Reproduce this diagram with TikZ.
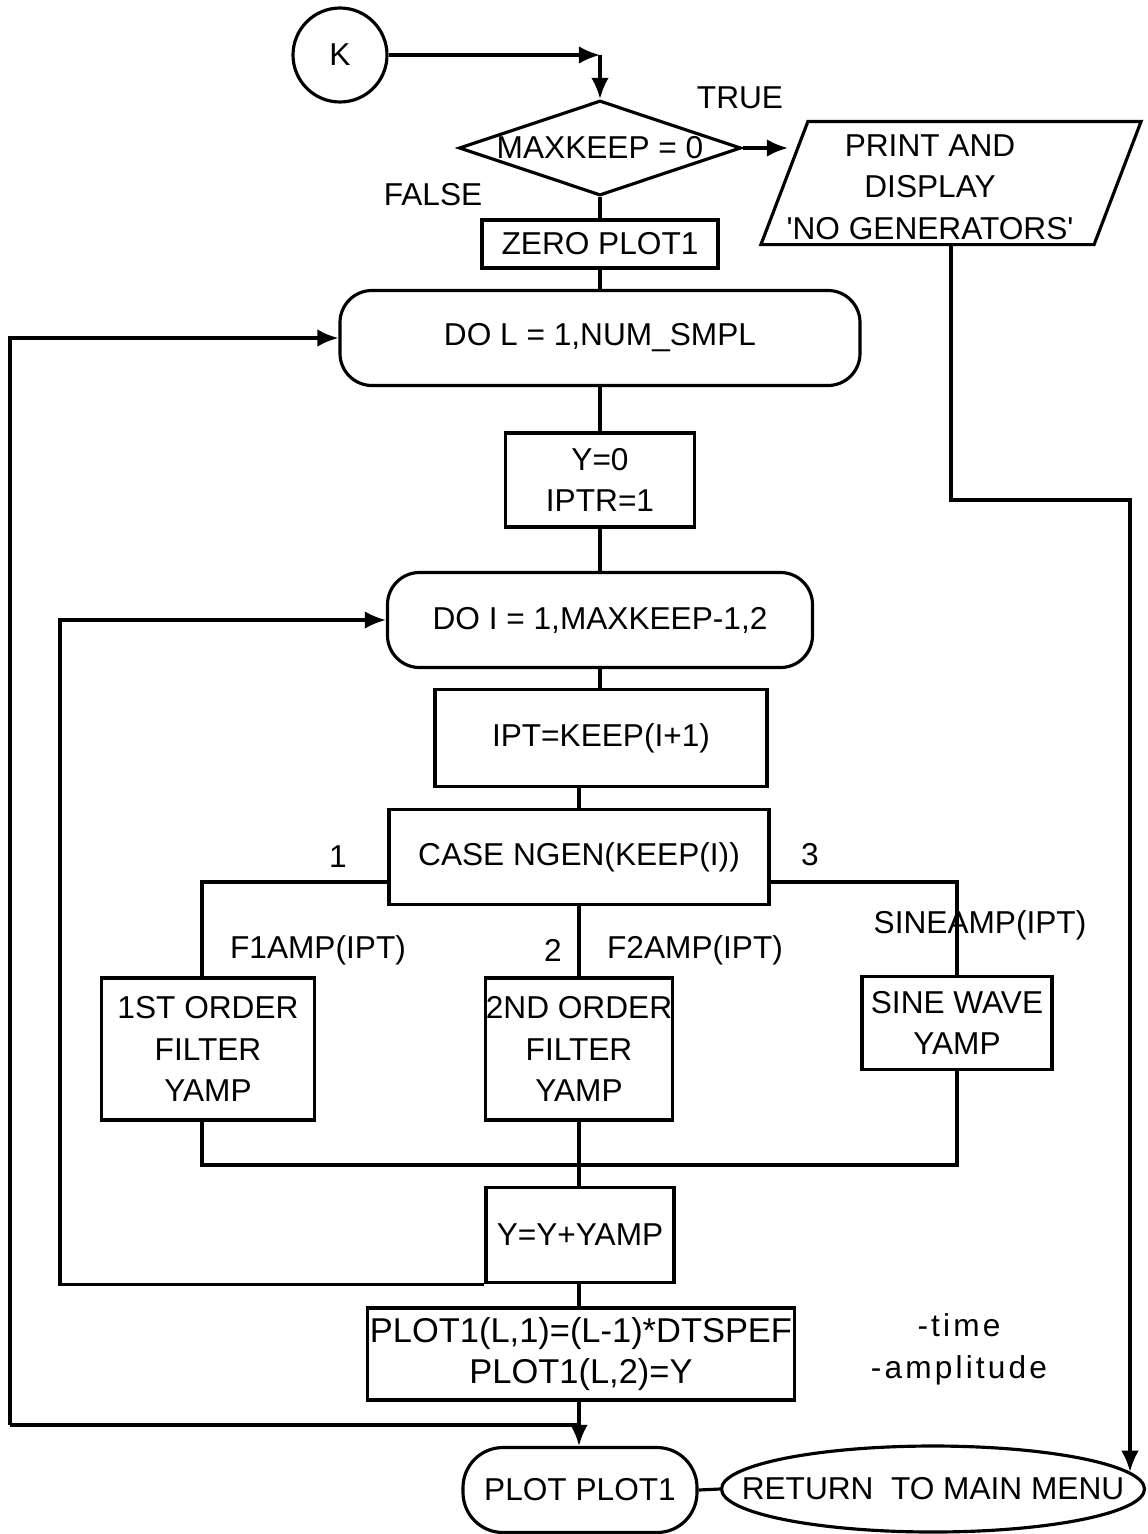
\documentclass[tikz,border=0pt]{standalone}
\usepackage{fontspec}
\setmainfont{Liberation Sans}
\newfontfamily\widefont[LetterSpace=10]{Liberation Sans}
\usetikzlibrary{arrows.meta,shapes.geometric,positioning}
\tikzset{
	>={Latex[length=6pt,width=5pt]},
	every node/.style={font=\fontsize{9}{11.8}\selectfont},
	box/.style={
		draw, rectangle,
		inner sep=0pt,
		align=center
	},
	loopbox/.style={
		box,
		rounded corners=3.2mm
	},
	decision/.style={
		draw, diamond,
		inner sep=0pt
	},
	term/.style={
		draw, ellipse,
		inner sep=0pt
	}
}

\begin{document}
\begin{tikzpicture}[x=0.1mm,y=-0.1mm,line width=0.9pt]
	\useasboundingbox (0,0) rectangle (1148,1534);

	% entry and test
	\node [draw, circle, minimum size=9.4mm] (K) at (340,55) {K};
	\coordinate (kc) at (600,55);
	\node [decision, minimum width=28.2mm, minimum height=9.5mm,
		label=center:{MAXKEEP = 0}] (test) at (600,148) {};
	\node (true) at (740,98) {TRUE};
	\node (false) at (433,195) {FALSE};

	% output box, slanted sides drawn round it
	\node [inner sep=0pt, minimum width=37.7mm, minimum height=12mm,
		label={[align=center, xshift=-2.1mm, yshift=-0.4mm]center:PRINT AND\\DISPLAY\\\textquotesingle NO GENERATORS\textquotesingle}]
		(out) at (951,183) {};
	\draw (out.south west) -- ([xshift=4.7mm]out.north west)
		-- (out.north east) -- ([xshift=-4.7mm]out.south east) -- cycle;

	% outer loop
	\node [box, minimum width=23.6mm, minimum height=4.8mm] (zero) at (600,244) {ZERO PLOT1};
	\node [loopbox, minimum width=52mm, minimum height=9.5mm] (dol) at (600,338) {DO L = 1,NUM\_SMPL};
	\node [box, minimum width=18.9mm, minimum height=9.4mm] (y0) at (600,480) {Y=0\\IPTR=1};

	% inner loop
	\node [loopbox, minimum width=42.5mm, minimum height=9.5mm] (doi) at (600,620) {DO I = 1,MAXKEEP-1,2};
	\node [box, minimum width=33.2mm, minimum height=9.7mm] (ipt) at (601,738) {IPT=KEEP(I+1)};
	\node [box, minimum width=38mm, minimum height=9.5mm] (case) at (579,857) {CASE NGEN(KEEP(I))};

	\node (c1) at (338,857) {1};
	\node (c2) at (553,950) {2};
	\node (c3) at (810,855) {3};
	\node (a1) at (318,950) {F1AMP(IPT)};
	\node (a2) at (695,950) {F2AMP(IPT)};
	\node (a3) at (980,925) {SINEAMP(IPT)};

	\node [box, minimum width=21.3mm, minimum height=14.2mm] (f1) at (208,1049) {1ST ORDER\\FILTER\\YAMP};
	\node [box, minimum width=18.7mm, minimum height=14.2mm] (f2) at (579,1049) {2ND ORDER\\FILTER\\YAMP};
	\node [box, minimum width=19mm, minimum height=9.3mm] (sine) at (957,1023) {SINE WAVE\\YAMP};
	\coordinate (mg) at (579,1165);

	\node [box, minimum width=18.8mm, minimum height=9.5mm] (yamp) at (580,1235) {Y=Y+YAMP};
	\coordinate (ip) at (60,1283);

	% store and plot
	\node [box, minimum width=42.7mm, minimum height=9.2mm, font=\fontsize{9.8}{11.8}\selectfont]
		(plt) at (581,1354) {PLOT1(L,1)=(L-1)*DTSPEF\\PLOT1(L,2)=Y};
	\node [align=center, font=\fontsize{9}{11.9}\selectfont\widefont] (unit) at (959,1349) {-time\\-amplitude};
	\coordinate (lp) at (10,1425);
	\node [loopbox, rounded corners=4mm, minimum width=23.4mm, minimum height=8.5mm] (pp) at (580,1490) {PLOT PLOT1};
	\node [term, minimum width=42.3mm, minimum height=8.6mm,
		label=center:{RETURN\ \ TO MAIN MENU}] (ret) at (933,1489) {};
	\coordinate (rp) at (1130,500);

	% connectors
	\draw [->] (K) -- (kc);
	\draw [->] (kc) -- (test.north);
	\draw [->] (test.east) -- ([xshift=2.7mm]out.west |- test.east);
	\draw (test.south) -- (zero.north);
	\draw (zero.south) -- (dol.north);
	\draw (dol.south) -- (y0.north);
	\draw (y0.south) -- (doi.north);
	\draw (doi.south) -- (doi.south |- ipt.north);
	\draw (case.north |- ipt.south) -- (case.north);
	\draw ([yshift=-2.5mm]case.west) -| ([xshift=-0.6mm]f1.north);
	\draw (case.south) -- (f2.north);
	\draw ([yshift=-2.5mm]case.east) -| (sine.north);
	\draw ([xshift=-0.6mm]f1.south) |- (mg) -| (sine.south);
	\draw (f2.south) -- (f2.south |- yamp.north);
	\draw [->] (yamp.south west) -- (yamp.south west -| ip) |- (doi.west);
	\draw (f2.south |- yamp.south) -- (f2.south |- plt.north);
	\draw [->] (lp) |- (dol.west);
	\draw (lp) -- (lp -| f2.south);
	\draw [->] (f2.south |- plt.south) -- (f2.south |- pp.north);
	\draw (pp.east) -- (ret.west);
	\draw [->] (out.south) |- (rp) -- (rp |- ret.5);
\end{tikzpicture}
\end{document}
